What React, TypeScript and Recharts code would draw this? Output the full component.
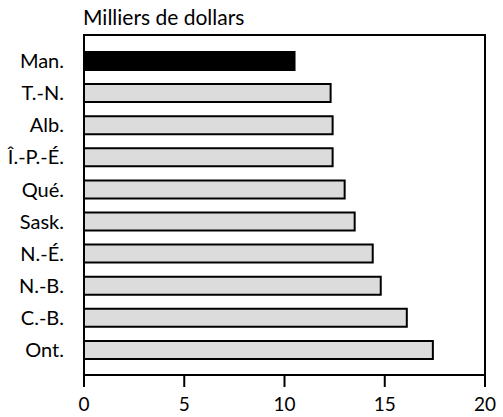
import React from "react";
import { BarChart, Bar, XAxis, YAxis, Cell } from "recharts";

const provinces = ["Man.", "T.-N.", "Alb.", "Î.-P.-É.", "Qué.", "Sask.", "N.-É.", "N.-B.", "C.-B.", "Ont."];
const values = [10.5, 12.3, 12.4, 12.4, 13.0, 13.5, 14.4, 14.8, 16.1, 17.4];
const xTicks = [0, 5, 10, 15, 20];
const highlight = "Man.";
const title = "Milliers de dollars";

const data = provinces.map((p, i) => ({ name: p, value: values[i] }));

const FONT = "Lato, 'Open Sans', sans-serif";

const W = 503;
const H = 417;
const MARGIN = { top: 35, right: 18, bottom: 0, left: 0 };
const Y_AXIS_W = 84;
const X_AXIS_H = 42;
const LINE_W = 2;

// plot-area box derived from the chart's layout constants
const plotLeft = MARGIN.left + Y_AXIS_W;
const plotTop = MARGIN.top;
const plotWidth = W - plotLeft - MARGIN.right;
const plotHeight = H - MARGIN.top - MARGIN.bottom - X_AXIS_H;

export default function App() {
  return (
    <div style={{ position: "absolute", left: 0, top: 0, width: W, height: H, background: "#fff" }}>
      <div
        style={{
          position: "absolute",
          left: plotLeft - LINE_W / 2,
          top: plotTop - LINE_W / 2,
          width: plotWidth,
          height: plotHeight,
          borderTop: `${LINE_W}px solid #000`,
          borderRight: `${LINE_W}px solid #000`,
          pointerEvents: "none",
        }}
      />
      <div
        style={{
          position: "absolute",
          left: 83,
          top: 4,
          fontFamily: FONT,
          fontSize: 21,
          color: "#000",
          lineHeight: "26px",
          whiteSpace: "nowrap",
        }}
      >
        {title}
      </div>
      <div style={{ position: "absolute", left: 0, top: 0 }}>
        <BarChart
          width={W}
          height={H}
          data={data}
          layout="vertical"
          margin={MARGIN}
          barCategoryGap={0}
        >
          <XAxis
            type="number"
            domain={[0, 20]}
            ticks={xTicks}
            axisLine={{ stroke: "#000", strokeWidth: LINE_W }}
            tickLine={{ stroke: "#000", strokeWidth: LINE_W }}
            tickSize={12}
            tickMargin={11}
            height={X_AXIS_H}
            tick={{ fill: "#000", fontSize: 19, fontFamily: FONT }}
            interval={0}
          />
          <YAxis
            type="category"
            dataKey="name"
            width={Y_AXIS_W}
            padding={{ top: 10, bottom: 9 }}
            axisLine={{ stroke: "#000", strokeWidth: LINE_W }}
            tickLine={false}
            tickSize={6}
            tickMargin={14}
            tick={{ fill: "#000", fontSize: 20, fontFamily: FONT }}
            interval={0}
          />
          <Bar dataKey="value" barSize={18} stroke="#000" strokeWidth={LINE_W} isAnimationActive={false}>
            {data.map((d) => (
              <Cell key={d.name} fill={d.name === highlight ? "#000" : "#dcdcdc"} />
            ))}
          </Bar>
        </BarChart>
      </div>
    </div>
  );
}
